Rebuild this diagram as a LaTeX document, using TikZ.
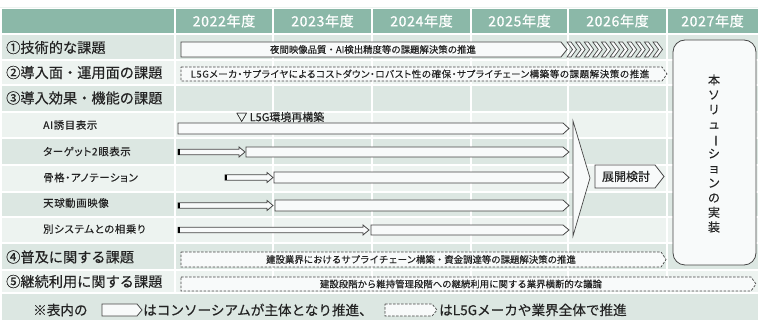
\documentclass[tikz,border=0pt]{standalone}
\usepackage{fontspec}
\setmainfont[FakeBold=0.25]{Noto Sans CJK JP}
\newfontfamily\jpp[RawFeature=+palt,LetterSpace=6,FakeBold=0.2]{Noto Sans CJK JP}
\newfontfamily\jpb[FakeBold=1.0,LetterSpace=5]{Noto Sans CJK JP}
\definecolor{hdr}{RGB}{139,184,168}
\definecolor{rowA}{RGB}{220,231,226}
\definecolor{rowB}{RGB}{237,243,240}
\definecolor{arrfill}{RGB}{248,250,250}
\definecolor{arrline}{RGB}{70,70,70}
\definecolor{txt}{RGB}{35,35,35}
\newcommand\penta[6]{\draw[#1] (#2,#3) -- (#4,#3) -- (#6,{(#3+#5)/2}) -- (#4,#5) -- (#2,#5) -- cycle;}
\newcommand\smallarr[3]{% x1, x2(tip), mid y
  \draw[solidarr] (#1,#3-2.8) -- (#2-6,#3-2.8) -- (#2-6,#3-5) -- (#2,#3) -- (#2-6,#3+5) -- (#2-6,#3+2.8) -- (#1,#3+2.8) -- cycle;
  \fill[black] (#1,#3-2.8) rectangle (#1+2,#3+2.8);}
\begin{document}
\begin{tikzpicture}[x=1pt,y=-1pt,
  solidarr/.style={draw=arrline,fill=arrfill,line width=0.8pt,line join=miter},
  dasharr/.style={draw=arrline,fill=arrfill,line width=0.7pt,dash pattern=on 2.5pt off 1.5pt},
  yearlbl/.style={text=white,font=\jpb\fontsize{14}{14}\selectfont},
  rowlbl/.style={anchor=west,text=txt,font=\fontsize{14.2}{14}\selectfont,inner sep=0pt},
  sublbl/.style={anchor=west,text=txt,font=\jpp\fontsize{10.4}{10}\selectfont,inner sep=0pt},
  arrtxt/.style={text=txt,font=\fontsize{9.4}{9}\selectfont,inner sep=0pt},
  foottxt/.style={anchor=west,text=txt,font=\fontsize{13.6}{13}\selectfont,inner sep=0pt}]
\useasboundingbox (0,0) rectangle (758,320);
\fill[white] (0,0) rectangle (758,320);
\draw[rowB,line width=0.6pt] (0,7) -- (758,7);
% header
\fill[hdr] (2,9) rectangle (758,33);
% rows
\fill[rowA] (2,35) rectangle (758,60);
\fill[rowB] (2,60) rectangle (758,85);
\fill[rowA] (2,85) rectangle (758,112);
\fill[rowB] (2,112) rectangle (758,138);
\fill[rowA] (2,138) rectangle (758,165);
\fill[rowB] (2,165) rectangle (758,192);
\fill[rowA] (2,192) rectangle (758,217);
\fill[rowB] (2,217) rectangle (758,243);
\fill[rowA] (2,243) rectangle (758,270);
\fill[rowB] (2,270) rectangle (758,293);
\fill[rowA] (2,293) rectangle (758,320);
% white separators
\foreach \yy in {60,85,112,138,165,192,217,243,270,293} \draw[white,line width=1.1pt] (2,\yy) -- (758,\yy);
\foreach \xx in {175,273,372,471,568,667} \draw[white,line width=1.1pt] (\xx,9) -- (\xx,293);
% header labels
\node[yearlbl] (y22) at (224,21) {2022年度};
\node[yearlbl] (y23) at (322.5,21) {2023年度};
\node[yearlbl] (y24) at (421.5,21) {2024年度};
\node[yearlbl] (y25) at (519.5,21) {2025年度};
\node[yearlbl] (y26) at (617.5,21) {2026年度};
\node[yearlbl] (y27) at (712.5,21) {2027年度};
% row labels
\node[rowlbl] (r1) at (6,47.5) {①技術的な課題};
\node[rowlbl] (r2) at (6,72.5) {②導入面・運用面の課題};
\node[rowlbl] (r3) at (6,98) {③導入効果・機能の課題};
\node[sublbl] (s1) at (43,125) {AI誘目表示};
\node[sublbl] (s2) at (43,151.5) {ターゲット2眼表示};
\node[sublbl] (s3) at (43,177.5) {骨格・アノテーション};
\node[sublbl] (s4) at (43,203) {天球動画映像};
\node[sublbl] (s5) at (43,229) {別システムとの相乗り};
\node[rowlbl] (r4) at (6,257) {④普及に関する課題};
\node[rowlbl] (r5) at (6,281.5) {⑤継続利用に関する課題};
% row 1
\penta{solidarr}{181}{42}{561}{57}{567}
\node[arrtxt] (t1) at (373,49.5) {夜間映像品質・AI検出精度等の課題解決策の推進};
\foreach \i in {0,...,10} {
  \pgfmathsetmacro\cx{567+8.6*\i}
  \draw[solidarr,line width=0.7pt] (\cx,42) -- (\cx+4,42) -- (\cx+9.5,49.5) -- (\cx+4,57) -- (\cx,57) -- (\cx+5.5,49.5) -- cycle;
}
% row 2
\penta{dasharr}{181}{67}{662}{81}{667}
\node[arrtxt,font=\jpp\fontsize{9.5}{9}\selectfont] (t2) at (420,74) {L5Gメーカ・サプライヤによるコストダウン・ロバスト性の確保・サプライチェーン構築等の課題解決策の推進};
% sub rows
\node[text=txt,font=\fontsize{11}{11}\selectfont,anchor=west,inner sep=0pt] (env) at (236,117) {▽ L5G環境再構築};
\penta{solidarr}{178}{123}{563}{134}{569}
\smallarr{178}{245}{152}
\penta{solidarr}{246}{147}{563}{157}{569}
\smallarr{225}{273}{177.5}
\penta{solidarr}{274}{172}{563}{183}{569}
\smallarr{178}{273}{205.5}
\penta{solidarr}{275}{200}{563}{211}{569}
\smallarr{178}{369}{230}
\penta{solidarr}{371}{225}{563}{235}{569}
% merge chevron
\draw[solidarr,line width=0.7pt] (573,121) -- (590,178) -- (573,236) -- cycle;
% deployment
\penta{solidarr}{595}{165}{655}{188}{664}
\node[text=txt,font=\fontsize{12}{12}\selectfont] (dep) at (626,176.5) {展開検討};
% implementation box
\draw[solidarr,rounded corners=12pt] (673,40) rectangle (756,265);
\node[text=txt,align=center,font=\fontsize{12}{14.7}\selectfont] (impl) at (714,153.5) {本\\ソ\\リ\\ュ\\\rotatebox[origin=c]{-90}{ー}\\シ\\ョ\\ン\\の\\実\\装};
% row 4, 5
\penta{dasharr}{181}{252}{661}{267}{666}
\node[arrtxt] (t4) at (421,259.5) {建設業界におけるサプライチェーン構築・資金調達等の課題解決策の推進};
\penta{dasharr}{181}{277}{751}{291}{756}
\node[arrtxt] (t5) at (461,284) {建設段階から維持管理段階への継続利用に関する業界横断的な議論};
% footer
\node[foottxt] (f1) at (33,310) {※表内の};
\penta{solidarr}{102}{304}{137}{316}{142}
\node[foottxt] (f2) at (143,310) {はコンソーシアムが主体となり推進、};
\penta{dasharr}{385}{304}{432}{316}{437}
\node[foottxt] (f3) at (439,310) {はL5Gメーカや業界全体で推進};
\end{tikzpicture}
\end{document}
